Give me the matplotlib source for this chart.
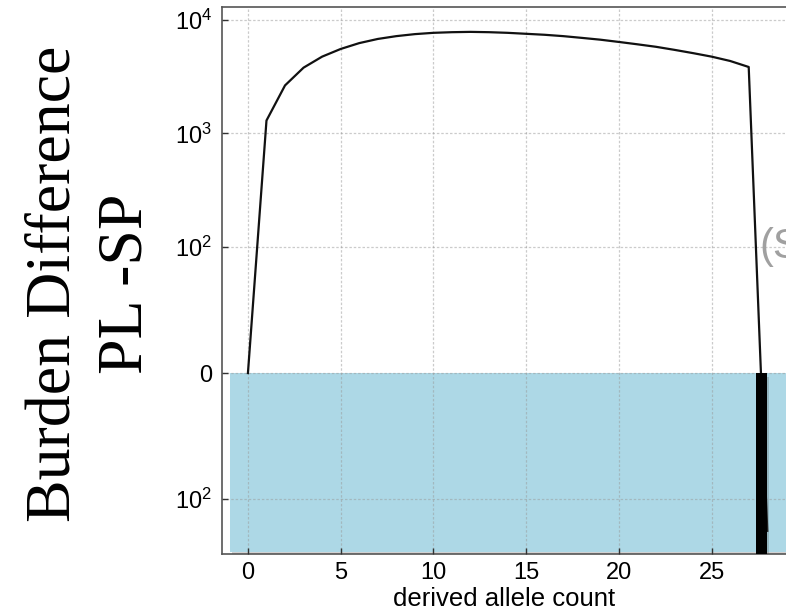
import matplotlib
matplotlib.use("Agg")
import matplotlib.pyplot as plt
import matplotlib.patheffects as pe

plt.rcParams['font.family'] = ['Liberation Sans', 'DejaVu Sans']
plt.rcParams['mathtext.fontset'] = 'custom'
plt.rcParams['mathtext.rm'] = 'Liberation Sans'
plt.rcParams['mathtext.it'] = 'Liberation Sans:italic'
plt.rcParams['mathtext.bf'] = 'Liberation Sans:bold'

# Burden difference (PL - SP) per derived allele count
allele_count = list(range(29))
burden_diff = [0, 1300, 2650, 3800, 4750, 5550, 6250, 6800, 7200, 7500,
               7700, 7800, 7850, 7800, 7700, 7550, 7400, 7200, 6950, 6700,
               6400, 6100, 5800, 5450, 5100, 4750, 4350, 3850, -190]

# Shaded negative region and the marker bar for the sign change
neg_region_x = [-0.95, 30.0]
neg_region_floor = -290
sign_change_x = 27.7
sign_change_floor = -310

y_ticks = [-100, 0, 100, 1000, 10000]
y_tick_labels = ['$10^2$', '0', '$10^2$', '$10^3$', '$10^4$']
x_ticks = [0, 5, 10, 15, 20, 25]

fig = plt.figure(figsize=(7.86, 6.15), dpi=100)
ax = fig.add_axes([0.2824, 0.0992, 0.7190, 0.8894])

ax.set_yscale('symlog', linthresh=100, linscale=1)
ax.set_xlim(-1.4, 29.07)
ax.set_ylim(-304, 13000)

shadow = [pe.SimplePatchShadow(offset=(1.5, -2.5), shadow_rgbFace='0.3', alpha=0.25), pe.Normal()]

ax.fill_between(neg_region_x, neg_region_floor, 0, color='#add8e6', zorder=1,
                linewidth=0, path_effects=shadow)

ax.plot(allele_count, burden_diff, color='#111111', linewidth=1.6, zorder=3)

ax.bar([sign_change_x], [sign_change_floor], width=0.6, bottom=0, color='black',
       zorder=4, path_effects=shadow)

ax.text(sign_change_x - 0.1, 100, '(SP)', color='#a0a0a0', fontsize=30,
        ha='left', va='center', zorder=5)

ax.set_axisbelow(False)
ax.grid(True, which='major', color='#999999', alpha=0.5, linestyle=(0, (2, 1.5)),
        linewidth=0.9)
ax.minorticks_off()

ax.set_yticks(y_ticks)
ax.set_yticklabels(y_tick_labels)
ax.set_xticks(x_ticks)

ax.tick_params(axis='both', which='major', direction='in', length=4, width=1,
               color='#333333', labelsize=17, pad=6)
ax.tick_params(axis='y', labelsize=17, pad=7)

for side in ['left', 'bottom', 'top']:
    ax.spines[side].set_color('#555555')
    ax.spines[side].set_linewidth(1.2)
ax.spines['right'].set_visible(False)

ax.set_xlabel('derived allele count', fontsize=18.5, labelpad=2)

fig.text(0.1155, 0.539, 'Burden Difference\nPL -SP', rotation=90,
         ha='center', va='center', multialignment='center',
         fontsize=46, family=['Liberation Serif', 'DejaVu Serif'], linespacing=1.32)

fig.savefig('out.png', dpi=100)
